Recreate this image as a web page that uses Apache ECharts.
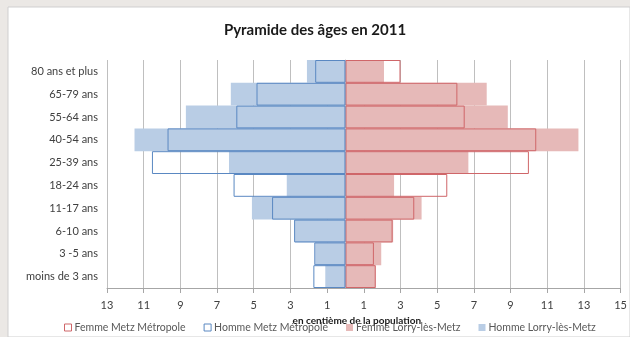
<!DOCTYPE html>
<html>
<head>
<meta charset="utf-8">
<script src="https://cdn.jsdelivr.net/npm/echarts@6/dist/echarts.min.js"></script>
<style>
    html, body { margin: 0; padding: 0; background: #ebe8e5; }
    #chart { width: 630px; height: 337px; }
</style>
</head>
<body>
<div id="chart"></div>
<script>
// tranches d'âge, du bas vers le haut
const categories = ['moins de 3 ans', '3 -5 ans', '6-10 ans', '11-17 ans', '18-24 ans',
    '25-39 ans', '40-54 ans', '55-64 ans', '65-79 ans', '80 ans et plus']

// en centième de la population
const femmeMetz = [1.65, 1.55, 2.57, 3.75, 5.55, 10.0, 10.4, 6.5, 6.1, 3.0]
const hommeMetz = [1.75, 1.7, 2.8, 4.0, 6.1, 10.55, 9.7, 5.95, 4.85, 1.65]
const femmeLorry = [1.65, 1.95, 2.6, 4.15, 2.65, 6.7, 12.7, 8.85, 7.7, 2.1]
const hommeLorry = [1.1, 1.65, 2.75, 5.1, 3.2, 6.35, 11.5, 8.7, 6.25, 2.1]

const seriesNames = ['Femme Metz Métropole', 'Homme Metz Métropole', 'Femme Lorry-lès-Metz', 'Homme Lorry-lès-Metz']

const font = 'Lato, "Open Sans", sans-serif'
const neg = arr => arr.map(v => -v)

let myChart = echarts.init(document.getElementById('chart'))

let option = {
    backgroundColor: 'transparent',
    animation: false,
    graphic: [{
        type: 'rect',
        z: -10,
        shape: { x: 8, y: 7, width: 622, height: 330 },
        style: { fill: '#ffffff', stroke: '#cfcfcf', lineWidth: 1 }
    }],
    title: {
        text: 'Pyramide des âges en 2011',
        left: 'center',
        top: 18,
        textStyle: {
            fontFamily: font,
            fontSize: 15,
            fontWeight: 'bold',
            color: '#1a1a1a'
        }
    },
    legend: {
        data: seriesNames,
        orient: 'horizontal',
        left: 64,
        width: 620,
        bottom: 4,
        padding: 0,
        icon: 'rect',
        itemWidth: 7,
        itemHeight: 7,
        itemGap: 18,
        itemStyle: { borderWidth: 1 },
        textStyle: {
            fontFamily: font,
            fontSize: 10.5,
            color: '#595959',
            padding: [0, 0, 0, -2]
        }
    },
    grid: {
        left: 107,
        right: 9,
        top: 60,
        bottom: 49
    },
    xAxis: {
        type: 'value',
        min: -13,
        max: 15,
        interval: 2,
        name: 'en centième de la population',
        nameLocation: 'middle',
        nameGap: 25,
        nameTextStyle: {
            fontFamily: font,
            fontSize: 10,
            fontWeight: 'bold',
            color: '#1a1a1a',
            padding: [0, 14, 0, 0]
        },
        axisLine: { show: true, lineStyle: { color: '#a6a6a6' } },
        axisTick: { show: true, length: 5, lineStyle: { color: '#a6a6a6' } },
        axisLabel: {
            fontFamily: font,
            fontSize: 11,
            color: '#404040',
            margin: 12,
            formatter: v => Math.abs(v)
        },
        splitLine: { show: true, lineStyle: { color: '#bfbfbf' } }
    },
    yAxis: {
        type: 'category',
        data: categories,
        axisLine: { show: true, lineStyle: { color: '#bfbfbf' } },
        axisTick: { show: false },
        axisLabel: {
            fontFamily: font,
            fontSize: 11,
            color: '#404040',
            margin: 9
        }
    },
    series: [{
        name: seriesNames[0],
        type: 'bar',
        data: femmeMetz,
        barWidth: '100%',
        barGap: '-100%',
        z: 4,
        itemStyle: { color: 'rgba(255,255,255,0)', borderColor: '#cf6669', borderWidth: 1 }
    }, {
        name: seriesNames[1],
        type: 'bar',
        data: neg(hommeMetz),
        barWidth: '100%',
        barGap: '-100%',
        z: 4,
        itemStyle: { color: 'rgba(255,255,255,0)', borderColor: '#5a88c2', borderWidth: 1 }
    }, {
        name: seriesNames[2],
        type: 'bar',
        data: femmeLorry,
        barWidth: '100%',
        barGap: '-100%',
        z: 2,
        itemStyle: { color: '#e6b9b8' }
    }, {
        name: seriesNames[3],
        type: 'bar',
        data: neg(hommeLorry),
        barWidth: '100%',
        barGap: '-100%',
        z: 2,
        itemStyle: { color: '#b9cde5' }
    }]
}
myChart.setOption(option)
</script>
</body>
</html>
